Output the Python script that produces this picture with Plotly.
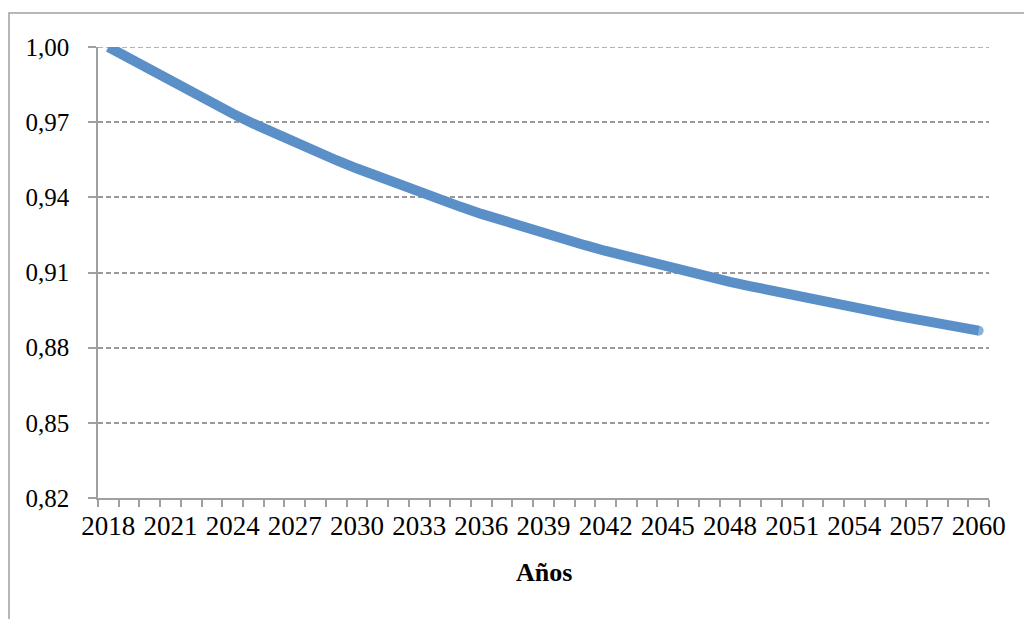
import plotly.graph_objects as go

# Projected index by year (base 2018 = 1,00)
years = list(range(2018, 2061))
index_values = [
    1.0000, 0.9954, 0.9908, 0.9863, 0.9819, 0.9776, 0.9734, 0.9694, 0.9655, 0.9618,
    0.9582, 0.9548, 0.9515, 0.9483, 0.9452, 0.9421, 0.9391, 0.9362, 0.9334, 0.9307,
    0.9281, 0.9256, 0.9232, 0.9209, 0.9186, 0.9164, 0.9143, 0.9122, 0.9102, 0.9082,
    0.9063, 0.9045, 0.9027, 0.9009, 0.8992, 0.8975, 0.8959, 0.8943, 0.8928, 0.8913,
    0.8898, 0.8883, 0.8868,
]
x_tick_years = years[::3]
y_ticks = [0.82, 0.85, 0.88, 0.91, 0.94, 0.97, 1.00]
x_title = "Años"

LINE_BLUE = "#5A8FC8"
AXIS_GRAY = "#A0A0A0"
GRID_GRAY = "#9A9A9A"
FONT = "Liberation Serif, Times New Roman, serif"

# round cap at the end of the line
marker_sizes = [0] * (len(years) - 1) + [10]

fig = go.Figure()
fig.add_trace(go.Scatter(
    x=years,
    y=index_values,
    mode="lines+markers",
    line=dict(color=LINE_BLUE, width=10),
    marker=dict(color=LINE_BLUE, size=marker_sizes, line=dict(width=0)),
    hoverinfo="x+y",
    showlegend=False,
))

# category boundaries carry the small tick marks
boundaries = [y - 0.5 for y in years] + [years[-1] + 0.5]

fig.update_xaxes(
    range=[years[0] - 0.5, years[-1] + 0.5],
    tickmode="array",
    tickvals=x_tick_years,
    ticktext=[str(y) for y in x_tick_years],
    ticks="",
    showgrid=False,
    zeroline=False,
    showline=True,
    linecolor=AXIS_GRAY,
    linewidth=1.5,
    tickfont=dict(family=FONT, size=27, color="#000000"),
    ticklabelstandoff=3,
    minor=dict(
        tickmode="array",
        tickvals=boundaries,
        ticks="outside",
        ticklen=7,
        tickwidth=1.5,
        tickcolor=AXIS_GRAY,
        showgrid=False,
    ),
)

fig.update_yaxes(
    range=[0.82, 1.00],
    tickmode="array",
    tickvals=y_ticks,
    tickformat=".2f",
    ticks="outside",
    ticklen=8,
    tickwidth=1.5,
    tickcolor=AXIS_GRAY,
    showline=True,
    linecolor=AXIS_GRAY,
    linewidth=1.5,
    showgrid=True,
    gridcolor=GRID_GRAY,
    gridwidth=1.5,
    griddash="5px,3px",
    zeroline=False,
    tickfont=dict(family=FONT, size=25, color="#000000"),
    ticklabelstandoff=14,
)

# gridline along the top of the value range
fig.add_shape(
    type="line",
    xref="paper", yref="y",
    x0=0, x1=1, y0=y_ticks[-1], y1=y_ticks[-1],
    line=dict(color=GRID_GRAY, width=1.5, dash="5px,3px"),
    layer="below",
)

fig.add_annotation(
    text="<b>" + x_title + "</b>",
    xref="paper", yref="paper",
    x=0.5, y=-0.166,
    xanchor="center", yanchor="middle",
    showarrow=False,
    font=dict(family=FONT, size=26, color="#000000"),
)

# outer chart frame (left and top edges visible)
fig.add_shape(
    type="rect",
    xref="paper", yref="paper",
    x0=-0.0999, x1=1.06, y0=-0.3, y1=1.0754,
    line=dict(color=AXIS_GRAY, width=1.5),
    fillcolor="rgba(0,0,0,0)",
    layer="below",
)

fig.update_layout(
    width=1024,
    height=619,
    margin=dict(l=98, r=35, t=47, b=121),
    paper_bgcolor="#FFFFFF",
    plot_bgcolor="#FFFFFF",
    separators=",.",
    font=dict(family=FONT),
)

fig.write_html("out.html")
